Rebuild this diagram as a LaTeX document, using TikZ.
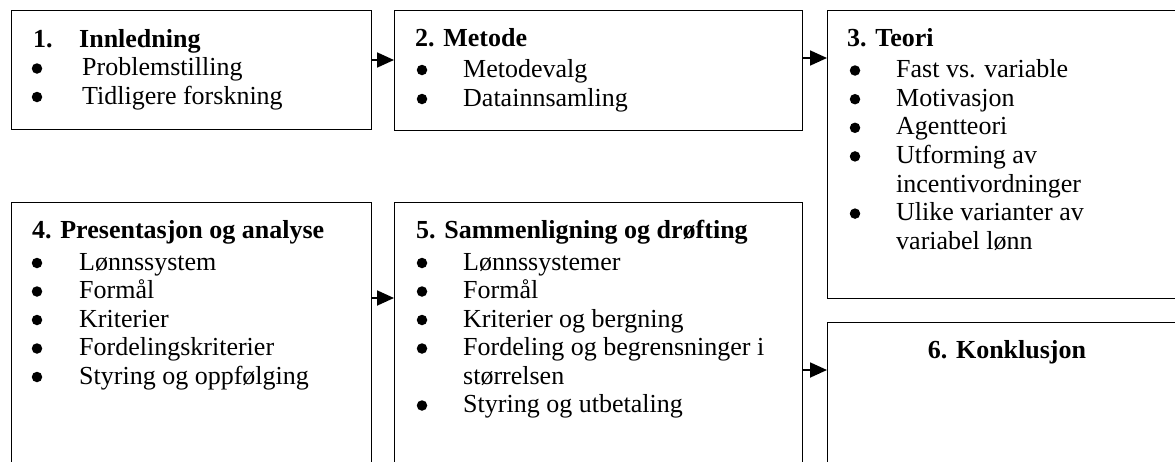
\documentclass[tikz,border=0pt]{standalone}
\usepackage{fontspec}
\setmainfont{Liberation Serif}
\usetikzlibrary{arrows.meta,calc}
\begin{document}
\begin{tikzpicture}[x=1pt,y=-1pt,
  box/.style={draw=black,line width=1.3pt,rectangle,anchor=north west,inner sep=0pt},
  txt/.style={anchor=base west,inner sep=0pt,font=\fontsize{26}{28}\selectfont},
  hdr/.style={anchor=base west,inner sep=0pt,font=\fontsize{26}{28}\selectfont\bfseries},
  bul/.style={circle,fill=black,inner sep=0pt,minimum size=10.5pt,yshift=7pt},
  arr/.style={line width=1.8pt,-{Triangle[length=17pt,width=15pt]}}]
\useasboundingbox (0,0) rectangle (1175,461);
\fill[white] (0,0) rectangle (1175,461);
\clip (0,0) rectangle (1175,461);
% boxes
\node[box,minimum width=360pt,minimum height=119pt] (b1) at (11,10) {};
\node[box,minimum width=408pt,minimum height=120pt] (b2) at (394,10) {};
\node[box,minimum width=363pt,minimum height=288pt] (b3) at (827,10) {};
\node[box,minimum width=360pt,minimum height=290pt] (b4) at (11,202) {};
\node[box,minimum width=408pt,minimum height=290pt] (b5) at (394,202) {};
\node[box,minimum width=363pt,minimum height=170pt] (b6) at (827,322) {};
% arrows
\draw[arr] ($(b1.north east)+(0,50)$) -- ($(b2.north west)+(0,50)$);
\draw[arr] ($(b2.north east)+(0,48)$) -- ($(b3.north west)+(0,48)$);
\draw[arr] ($(b4.north east)+(0,96)$) -- ($(b5.north west)+(0,96)$);
\draw[arr] ($(b5.north east)+(0,168)$) -- ($(b6.north west)+(0,48)$);
% box 1
\node[hdr] (h1n) at (33,47) {1.};
\node[hdr] (h1) at (79,47) {Innledning};
\node[bul] (u11) at (37,75.5) {};
\node[txt] (t11) at (82,75.5) {Problemstilling};
\node[bul] (u12) at (37,104) {};
\node[txt] (t12) at (82,104) {Tidligere forskning};
% box 2
\node[hdr] (h2) at (415,46) {2. Metode};
\node[bul] (u21) at (422,77) {};
\node[txt] (t21) at (463,77) {Metodevalg};
\node[bul] (u22) at (422,106) {};
\node[txt] (t22) at (463,106) {Datainnsamling};
% box 3
\node[hdr] (h3) at (847,46) {3. Teori};
\node[bul] (u31) at (855,77.5) {};
\node[txt] (t31) at (896,77.5) {Fast vs. variable};
\node[bul] (u32) at (855,106.2) {};
\node[txt] (t32) at (896,106.2) {Motivasjon};
\node[bul] (u33) at (855,134.8) {};
\node[txt] (t33) at (896,134.8) {Agentteori};
\node[bul] (u34) at (855,163.4) {};
\node[txt] (t34) at (896,163.4) {Utforming av};
\node[txt] (t35) at (896,192) {incentivordninger};
\node[bul] (u36) at (855,220.6) {};
\node[txt] (t36) at (896,220.6) {Ulike varianter av};
\node[txt] (t37) at (896,249.2) {variabel lønn};
% box 4
\node[hdr] (h4) at (32,238) {4. Presentasjon og analyse};
\node[bul] (u41) at (37,270) {};
\node[txt] (t41) at (79,270) {Lønnssystem};
\node[bul] (u42) at (37,298.5) {};
\node[txt] (t42) at (79,298.5) {Formål};
\node[bul] (u43) at (37,327) {};
\node[txt] (t43) at (79,327) {Kriterier};
\node[bul] (u44) at (37,355.5) {};
\node[txt] (t44) at (79,355.5) {Fordelingskriterier};
\node[bul] (u45) at (37,384) {};
\node[txt] (t45) at (79,384) {Styring og oppfølging};
% box 5
\node[hdr] (h5) at (416,238) {5. Sammenligning og drøfting};
\node[bul] (u51) at (422,270) {};
\node[txt] (t51) at (463,270) {Lønnssystemer};
\node[bul] (u52) at (422,298.5) {};
\node[txt] (t52) at (463,298.5) {Formål};
\node[bul] (u53) at (422,327) {};
\node[txt] (t53) at (463,327) {Kriterier og bergning};
\node[bul] (u54) at (422,355.5) {};
\node[txt] (t54) at (463,355.5) {Fordeling og begrensninger i};
\node[txt] (t55) at (463,384) {størrelsen};
\node[bul] (u56) at (422,412.5) {};
\node[txt] (t56) at (463,412.5) {Styring og utbetaling};
% box 6
\node[hdr,anchor=base] (h6) at (1007,358) {6. Konklusjon};
\end{tikzpicture}
\end{document}
